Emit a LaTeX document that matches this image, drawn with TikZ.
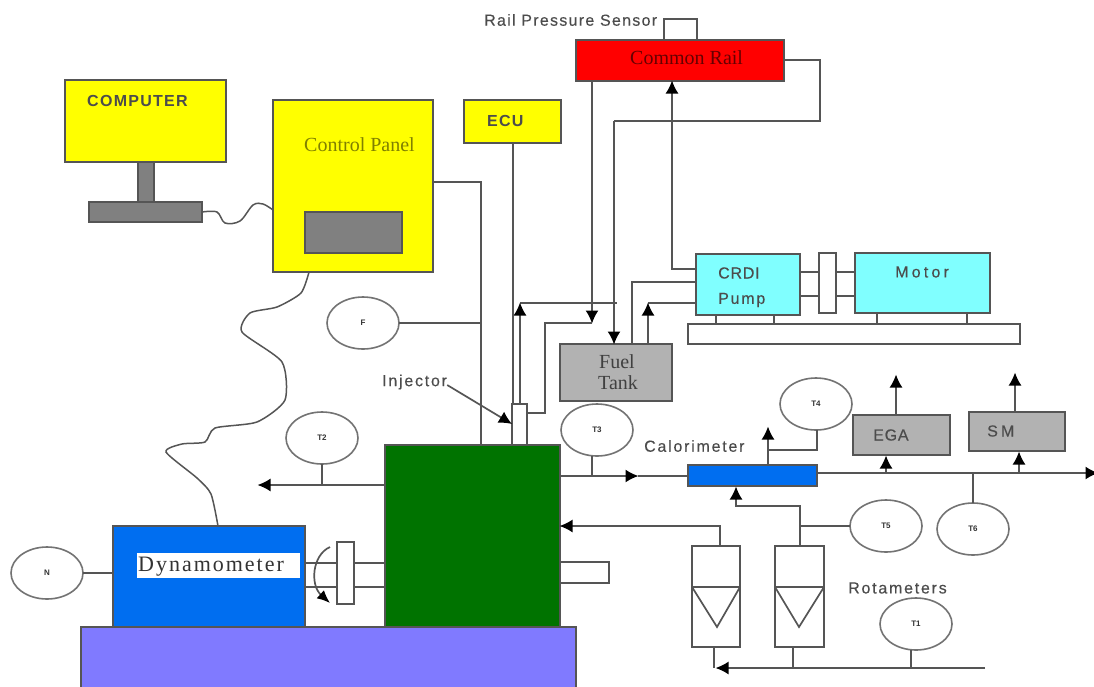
\documentclass[tikz,border=0pt]{standalone}
\usepackage{fontspec}
\setmainfont{Liberation Serif}
\setsansfont{Liberation Sans}
\newfontfamily\wideA[LetterSpace=11,FakeBold=0.3]{Liberation Sans}
\newfontfamily\wideR[LetterSpace=8,FakeBold=0.3]{Liberation Sans}
\newfontfamily\wideN[LetterSpace=5,FakeBold=0.3]{Liberation Sans}
\newfontfamily\wideW[LetterSpace=20,FakeBold=0.3]{Liberation Sans}
\newfontfamily\wideC[LetterSpace=8]{Liberation Sans Bold}
\newfontfamily\wideD[LetterSpace=9]{Liberation Serif}
\usetikzlibrary{arrows.meta,shapes.geometric}
\definecolor{ln}{RGB}{85,85,85}
\definecolor{yel}{RGB}{255,255,0}
\definecolor{gry}{RGB}{128,128,128}
\definecolor{lgry}{RGB}{178,178,178}
\definecolor{cyn}{RGB}{128,255,255}
\definecolor{blu}{RGB}{0,110,240}
\definecolor{vio}{RGB}{128,122,255}
\definecolor{grn}{RGB}{0,115,0}
\tikzset{
  x=1pt,y=-1pt,
  wire/.style={draw=ln,line width=1.7pt},
  tipb/.style={-{Latex[length=13pt,width=13pt,color=black]}},
  arr/.style={wire,tipb,shorten >=-0.5pt},
  box/.style={draw=ln,line width=1.7pt,inner sep=0,outer sep=0,anchor=north west},
  gauge/.style={draw=black!55,line width=1.6pt,ellipse,fill=white,minimum width=72pt,minimum height=52pt,inner sep=0,outer sep=0,font=\sffamily\bfseries\fontsize{8}{9}\selectfont,text=black!80},
  lab/.style={font=\wideA\fontsize{16}{17}\selectfont,text=black!70,inner sep=0,anchor=west},
  blab/.style={font=\wideC\fontsize{16}{17}\selectfont,text=black!70,inner sep=0,anchor=west},
}
\newcommand{\bx}[6]{\node[box,fill=#5,minimum width=#3pt,minimum height=#4pt] (#6) at (#1,#2) {};}
\begin{document}
\begin{tikzpicture}
\useasboundingbox (0,0) rectangle (1094,686);
\fill[white] (0,0) rectangle (1094,686);
\bx{65}{80}{161}{82}{yel}{computer}
\bx{138}{162}{16}{40}{gry}{stem}
\bx{89}{202}{113}{20}{gry}{kbd}
\bx{273}{100}{160}{172}{yel}{panel}
\bx{305}{212}{97}{41}{gry}{screen}
\bx{464}{100}{97}{43}{yel}{ecu}
\bx{576}{40}{208}{41}{red}{rail}
\bx{696}{254}{104}{61}{cyn}{pump}
\bx{855}{253}{135}{60}{cyn}{motor}
\bx{819}{253}{17}{60}{white}{coupA}
\bx{688}{324}{332}{20}{white}{bed}
\bx{560}{344}{112}{57}{lgry}{tank}
\bx{512}{404}{15}{42}{white}{inj}
\bx{385}{445}{175}{183}{grn}{engine}
\bx{113}{526}{192}{101}{blu}{dyno}
\bx{81}{627}{495}{64}{vio}{base}
\bx{337}{542}{17}{62}{white}{coupB}
\bx{688}{465}{129}{21}{blu}{cal}
\bx{853}{415}{97}{40}{lgry}{ega}
\bx{969}{412}{96}{39}{lgry}{sm}
\bx{692}{546}{48}{101}{white}{rotA}
\bx{775}{546}{49}{101}{white}{rotB}
\node[gauge] (gF) at (363,323) {F};
\node[gauge] (gT2) at (322,438) {T2};
\node[gauge] (gT3) at (597,430) {T3};
\node[gauge] (gT4) at (816,404) {T4};
\node[gauge] (gT5) at (886,526) {T5};
\node[gauge] (gT6) at (973,529) {T6};
\node[gauge] (gT1) at (916,624) {T1};
\node[gauge] (gN) at (47,573) {N};
% tap points on the main lines
\coordinate (tapT2) at (322,485);
\coordinate (tapT3) at (592,476);
\coordinate (tapT6) at (973,473);
\coordinate (tapT1) at (911,668);
\coordinate (tapF) at (481,323);
\coordinate (tapN) at (113,573);
\coordinate (tapT5) at (800,526);
% feet
\draw[wire] (716,315) -- (716,324) (774,315) -- (774,324) (877,313) -- (877,324) (967,313) -- (967,324);
% coupling pump-motor
\draw[wire] (800,272) -- (819,272) (800,296) -- (819,296) (836,272) -- (855,272) (836,296) -- (855,296);
% shafts
\draw[wire] (305,563) -- (337,563) (305,587) -- (337,587) (354,563) -- (385,563) (354,587) -- (385,587);
\draw[wire] (560,562) -- (609,562) -- (609,583) -- (560,583);
% sensor loop on rail
\coordinate (sB) at (664,19);
\coordinate (sC) at (697,19);
\draw[wire] (664,40) -- (sB) -- (sC) -- (697,40);
% return line
\coordinate (r1) at (820,60);
\coordinate (r2) at (820,121);
\coordinate (r3) at (614,121);
\draw[wire] (784,60) -- (r1) -- (r2) -- (r3);
\draw[arr] (r3) -- (614,344);
% rail to tank
\draw[arr] (592,81) -- (592,323);
\draw[wire] (592,323) -- (545,323) -- (545,413) -- (527,413);
% pump to rail
\draw[arr] (696,269) -- (672,269) -- (672,81);
% pump to tank
\draw[wire] (696,282) -- (632,282) -- (632,344);
\draw[wire] (696,303) -- (648,303);
\draw[arr] (648,344) -- (648,303);
% high-pressure line to injector
\draw[wire] (520,303) -- (617,303);
\draw[arr] (520,404) -- (520,303);
% ECU
\draw[wire] (513,143) -- (513,404);
% panel to engine
\draw[wire] (433,182) -- (481,182) -- (481,445);
\draw[wire] (gF) -- (tapF);
\draw[wire] (gN) -- (tapN);
% injector label
\node[lab] (lInj) at (382,382) {Injector};
\draw[wire,tipb] (lInj.east) ++(0,3) -- (inj.west |- 0,424);
% exhaust
\draw[arr] (engine.west |- tapT2) -- (258,485);
\draw[wire] (gT2) -- (tapT2);
\draw[arr] (560,476) -- (638,476);
\draw[wire] (638,476) -- (688,476);
\draw[wire] (tapT3 |- gT3.south) -- (tapT3);
\draw[arr] (817,473) -- (1098,473);
\draw[arr] (768,465) -- (768,427);
\draw[wire] (768,450) -- (817,450) -- (817,430);
\draw[arr] (886,473) -- (886,456);
\draw[arr] (1019,473) -- (1019,452);
\draw[arr] (896,415) -- (896,375);
\draw[arr] (1015,412) -- (1015,373);
\draw[wire] (tapT6) -- (gT6);
% water
\draw[arr] (800,546) -- (800,506) -- (736,506) -- (736,487);
\draw[wire] (tapT5) -- (gT5);
\draw[arr] (720,546) -- (720,526) -- (560,526);
\draw[wire] (714,647) -- (714,668);
\draw[wire] (793,647) -- (793,668);
\draw[wire] (tapT1 |- gT1.south) -- (tapT1);
\coordinate (wEnd) at (985,668);
\draw[arr] (wEnd) -- (716,668);
% rotameter floats
\draw[wire] (692,587) -- (740,587) (692,587) -- (717,627) -- (740,587);
\draw[wire] (775,587) -- (824,587) (775,587) -- (799,627) -- (824,587);
% cables
\draw[wire,line width=1.5pt] plot[smooth,tension=0.55] coordinates {(202,212) (217,212) (225,223) (240,221) (253,205) (263,204) (273,210)};
\draw[wire,line width=1.5pt] plot[smooth,tension=0.4] coordinates {(309,272) (301,293) (277,307) (250,313) (242,332) (282,362) (285,400) (257,422) (215,428) (205,442) (182,444) (166,452) (197,478) (211,494) (218,526)};
% dyno direction arrow
\coordinate (rotS) at (330,547);
\coordinate (rotE) at (330,603);
\draw[wire,-{Latex[length=13pt,width=11pt,color=black]}] (rotS) .. controls (312,555) and (310,585) .. (rotE);
% labels
\node[blab] (lPC) at (87,101) {COMPUTER};
\node[font=\fontsize{20}{21}\selectfont,text=black!50!yel,inner sep=0,anchor=west] (lCP) at (304,145) {Control Panel};
\node[blab] (lECU) at (487,121) {ECU};
\node[lab,font=\wideR\fontsize{16}{17}\selectfont] (lRPS) at (484,20) {Rail Pressure Sensor};
\node[font=\fontsize{20}{21}\selectfont,text=black!60!red,inner sep=0,anchor=west] (lCR) at (630,58) {Common Rail};
\node[lab,font=\wideN\fontsize{16}{17}\selectfont] (lCRDI) at (718,273) {CRDI};
\node[lab] (lPu) at (718,300) {Pump};
\node[lab,font=\wideW\fontsize{16}{17}\selectfont] (lMo) at (895,272) {Motor};
\node[font=\fontsize{20}{21}\selectfont,text=black!75,inner sep=0] (lFuel) at (617,362) {Fuel};
\node[font=\fontsize{20}{21}\selectfont,text=black!75,inner sep=0] (lTank) at (618,383) {Tank};
\node[lab] (lCal) at (644,446) {Calorimeter};
\node[lab,font=\wideN\fontsize{16}{17}\selectfont] (lEGA) at (873,435) {EGA};
\node[lab,font=\wideW\fontsize{16}{17}\selectfont] (lSM) at (987,431) {SM};
\node[lab] (lRot) at (848,588) {Rotameters};
\fill[white] (137,553) rectangle (300,578);
\node[font=\wideD\fontsize{22}{23}\selectfont,text=black!80,inner sep=0,anchor=west] (lDy) at (138,567) {Dynamometer};
\end{tikzpicture}
\end{document}
